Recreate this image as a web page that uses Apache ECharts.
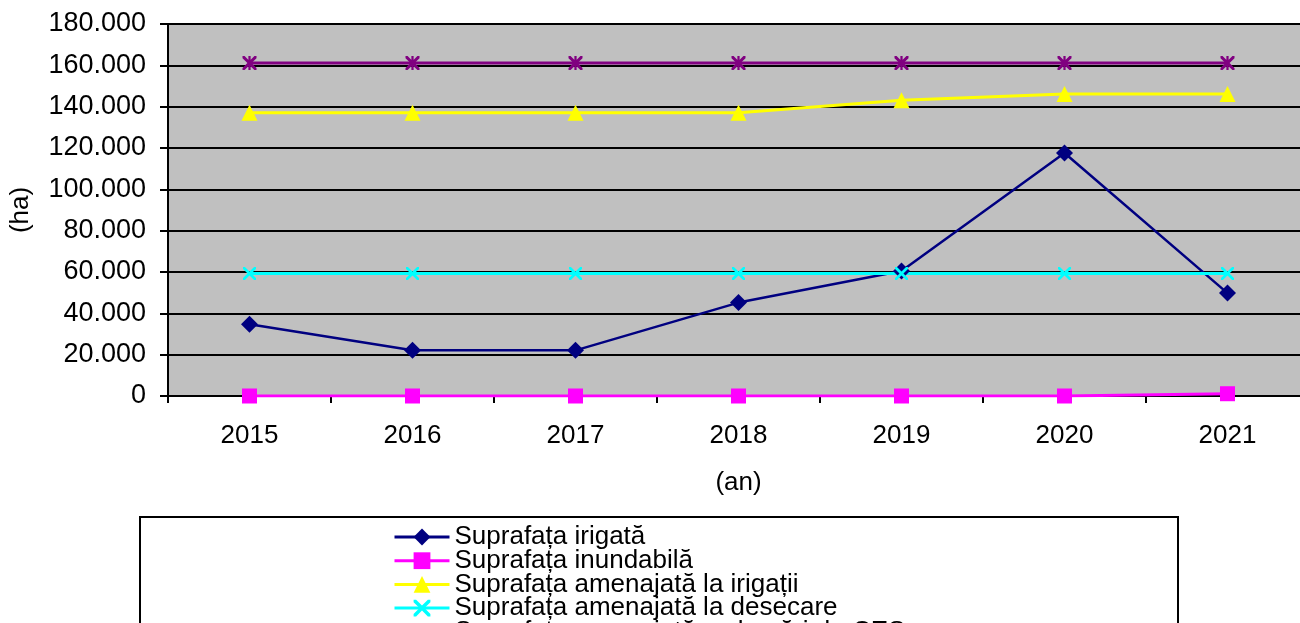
<!DOCTYPE html>
<html>
<head>
<meta charset="utf-8">
<script src="https://cdn.jsdelivr.net/npm/echarts@6/dist/echarts.min.js"></script>
<style>
html,body{margin:0;padding:0;background:#fff;}
#chart{width:1300px;height:623px;}
</style>
</head>
<body>
<div id="chart"></div>
<script>
// ---- data ----
const years = ['2015', '2016', '2017', '2018', '2019', '2020', '2021'];
const seriesNames = [
  'Suprafața irigată',
  'Suprafața inundabilă',
  'Suprafața amenajată la irigații',
  'Suprafața amenajată la desecare',
  'Suprafața amenajată cu lucrări de CES'
];
const irigata = [34700, 22100, 22100, 45200, 60500, 117600, 49800];
const inundabila = [0, 0, 0, 0, 0, 0, 1100];
const amenajataIrigatii = [137100, 137100, 137100, 137100, 143100, 146100, 146100];
const amenajataDesecare = [59300, 59300, 59300, 59300, 59300, 59300, 59300];
const amenajataCES = [161100, 161100, 161100, 161100, 161100, 161100, 161100];
const yMin = 0, yMax = 180000, yStep = 20000;

const FONT = '"Liberation Sans", Arial, sans-serif';
const xPath = 'path://M0,0 L1.5,0 L5,3.5 L8.5,0 L10,0 L10,1.5 L6.5,5 L10,8.5 L10,10 L8.5,10 L5,6.5 L1.5,10 L0,10 L0,8.5 L3.5,5 L0,1.5 Z';
const starPath = 'path://M0,0 L1.5,0 L5,3.5 L8.5,0 L10,0 L10,1.5 L6.5,5 L10,8.5 L10,10 L8.5,10 L5,6.5 L1.5,10 L0,10 L0,8.5 L3.5,5 L0,1.5 Z M4.2,0 L5.8,0 L5.8,10 L4.2,10 Z';

function fmt(v) {
  return String(v).replace(/\B(?=(\d{3})+(?!\d))/g, '.');
}

const chart = echarts.init(document.getElementById('chart'), null, {renderer: 'canvas'});

function mkSeries(name, data, color, symbol, size, width) {
  return {
    name: name, type: 'line', data: data,
    symbol: symbol, symbolSize: size, showAllSymbol: true,
    lineStyle: {color: color, width: width},
    itemStyle: {color: color},
    emphasis: {disabled: true},
    animation: false
  };
}

const legends = seriesNames.map(function (n, i) {
  return {
    orient: 'vertical', left: 393, top: 524 + i * 23.7, padding: 0,
    itemWidth: 55, itemHeight: 21, itemGap: 0,
    lineStyle: {width: 3},
    textStyle: {fontSize: 26, color: '#000', lineHeight: 24, fontFamily: FONT},
    data: [n]
  };
});

chart.setOption({
  animation: false,
  textStyle: {fontFamily: FONT},
  grid: {
    left: 168, top: 24, width: 1141, height: 372,
    outerBoundsMode: 'none', containLabel: false,
    show: true, backgroundColor: '#C0C0C0', borderColor: '#808080', borderWidth: 1
  },
  xAxis: {
    type: 'category', data: years, boundaryGap: true,
    name: '(an)', nameLocation: 'middle', nameGap: 74,
    nameTextStyle: {fontSize: 26, color: '#000', fontFamily: FONT},
    axisLine: {show: true, lineStyle: {color: '#000', width: 2}},
    axisTick: {show: true, length: 7, lineStyle: {color: '#000', width: 2}},
    axisLabel: {fontSize: 26, color: '#000', margin: 27, fontFamily: FONT},
    splitLine: {show: false}
  },
  yAxis: {
    type: 'value', min: yMin, max: yMax, interval: yStep,
    name: '(ha)', nameLocation: 'middle', nameGap: 134, nameRotate: 90,
    nameTextStyle: {fontSize: 26, color: '#000', fontFamily: FONT},
    axisLine: {show: true, lineStyle: {color: '#000', width: 2}},
    axisTick: {show: true, length: 8, lineStyle: {color: '#000', width: 2}},
    axisLabel: {fontSize: 27, color: '#000', margin: 22, fontFamily: FONT, formatter: fmt},
    splitLine: {show: true, lineStyle: {color: '#000', width: 2}}
  },
  legend: legends,
  graphic: [{
    type: 'rect', z: -10, silent: true,
    shape: {x: 140, y: 517, width: 1038, height: 200},
    style: {fill: '#fff', stroke: '#000', lineWidth: 2}
  }],
  series: [
    mkSeries(seriesNames[0], irigata, '#000080', 'diamond', 17, 2.5),
    mkSeries(seriesNames[1], inundabila, '#FF00FF', 'rect', 15, 3),
    mkSeries(seriesNames[2], amenajataIrigatii, '#FFFF00', 'triangle', 16, 3),
    mkSeries(seriesNames[3], amenajataDesecare, '#00FFFF', xPath, 13, 3),
    mkSeries(seriesNames[4], amenajataCES, '#800080', starPath, 14, 3)
  ]
});
</script>
</body>
</html>
